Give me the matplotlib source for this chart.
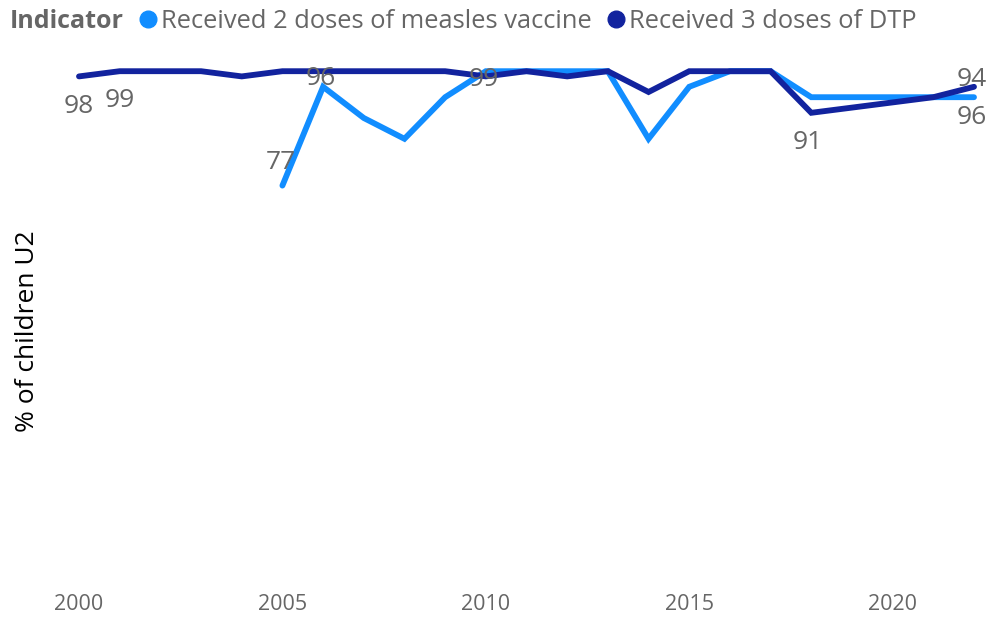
import matplotlib.pyplot as plt
from matplotlib.lines import Line2D

# data
years = list(range(2000, 2023))
measles_years = list(range(2005, 2023))
measles = [77, 96, 90, 86, 94, 99, 99, 99, 99, 86, 96, 99, 99, 94, 94, 94, 94, 94]
dtp = [98, 99, 99, 99, 98, 99, 99, 99, 99, 99, 98, 99, 98, 99, 95, 99, 99, 99, 91, 92, 93, 94, 96]
series_names = ["Received 2 doses of measles vaccine", "Received 3 doses of DTP"]
x_ticks = [2000, 2005, 2010, 2015, 2020]

LIGHT = "#118DFF"
DARK = "#12239E"
GREY = "#666666"

plt.rcParams["font.family"] = ["Open Sans", "DejaVu Sans"]

fig = plt.figure(figsize=(10.04, 6.29), dpi=100)
ax = fig.add_axes([79 / 1004, 1 - 586 / 629, 895 / 1004, 520 / 629])

ax.plot(measles_years, measles, color=LIGHT, lw=4.2, solid_joinstyle="miter",
        solid_capstyle="round", clip_on=False, zorder=2)
ax.plot(years, dtp, color=DARK, lw=4.2, solid_joinstyle="miter",
        solid_capstyle="round", clip_on=False, zorder=3)

ax.set_xlim(2000, 2022)
ax.set_ylim(0, 100)
ax.set_xticks(x_ticks)
ax.set_xticklabels([str(t) for t in x_ticks], color=GREY, fontsize=15.5)
ax.tick_params(axis="x", length=0, pad=6)
ax.set_yticks([])
for s in ax.spines.values():
    s.set_visible(False)

ax.set_ylabel("% of children U2", fontsize=19, color="black")
ax.yaxis.set_label_coords(-0.044, 0.49)

# data labels (value, anchor point, pixel offset)
labels = [
    (2000, dtp[0], 0, -30),
    (2001, dtp[1], 0, -29),
    (2005, measles[0], -2, 23),
    (2006, measles[1], -2, 8),
    (2010, measles[5], -2, -8),
    (2018, dtp[18], -4, -30),
    (2022, measles[-1], -2, 18),
    (2022, dtp[-1], -2, -31),
]
for x, v, dx, dy in labels:
    ax.annotate(str(v), (x, v), xytext=(dx, dy), textcoords="offset pixels",
                ha="center", va="center", fontsize=19, color=GREY,
                annotation_clip=False, zorder=4)

# legend
fig.text(10 / 1004, 1 - 21 / 629, "Indicator", fontsize=18, fontweight="bold",
         color=GREY, ha="left", va="center")
handles = [
    Line2D([], [], ls="none", marker="o", markersize=12, color=LIGHT),
    Line2D([], [], ls="none", marker="o", markersize=12, color=DARK),
]
leg = fig.legend(handles, series_names, loc="center left", ncol=2,
                 bbox_to_anchor=(137 / 1004, 1 - 21 / 629), frameon=False,
                 borderpad=0, borderaxespad=0, handlelength=0.9, handletextpad=0.05,
                 columnspacing=0.5, fontsize=18.4)
for t in leg.get_texts():
    t.set_color(GREY)

fig.savefig("out.png", dpi=100)
